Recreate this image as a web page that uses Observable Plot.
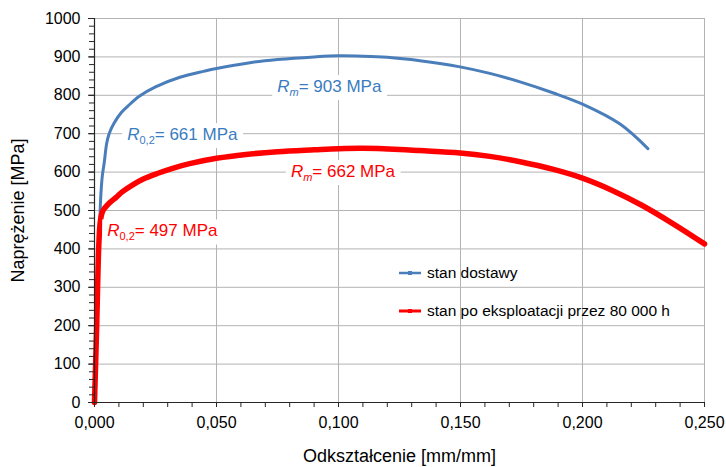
<!DOCTYPE html>
<html>
<head>
<meta charset="utf-8">
<script src="https://cdn.jsdelivr.net/npm/d3@7"></script>
<script src="https://cdn.jsdelivr.net/npm/@observablehq/plot@0.6"></script>
<style>
  html, body { margin: 0; padding: 0; background: #fff; }
  #chart svg { display: block; }
</style>
</head>
<body>
<div id="chart"></div>
<script>
// Tensile curves: strain [mm/mm] vs stress [MPa]
const strainDelivered = [0, 0.0009, 0.0018, 0.0022, 0.0026, 0.0032, 0.0040, 0.0050, 0.0060, 0.0080, 0.0110, 0.0137, 0.0185, 0.025, 0.035, 0.045, 0.050, 0.0637, 0.075, 0.090, 0.100, 0.110, 0.120, 0.1334, 0.1498, 0.162, 0.1744, 0.1881, 0.200, 0.2154, 0.2268];
const stressDelivered = [0, 200, 400, 480, 540, 590, 625, 675, 700, 727, 755, 772, 798, 822, 847, 863, 870, 885, 893, 900, 903, 902, 899, 890, 874, 857, 835, 806, 777, 725, 661];

const strainAged = [0, 0.0009, 0.0017, 0.0022, 0.0027, 0.0035, 0.0062, 0.0090, 0.0115, 0.016, 0.020, 0.026, 0.032, 0.039, 0.050, 0.062, 0.075, 0.090, 0.100, 0.110, 0.125, 0.1334, 0.1498, 0.162, 0.1744, 0.1881, 0.1997, 0.212, 0.2245, 0.237, 0.250];
const stressAged = [0, 200, 400, 460, 484, 500, 520, 535, 549, 568, 582, 597, 610, 622, 636, 646, 653, 658, 661, 662, 659, 656, 650, 641, 627, 607, 585, 553, 513, 466, 413];

// Yield strengths
const yieldDelivered = 661;
const yieldAged = 497;

// Series names
const seriesNames = ["stan dostawy", "stan po eksploatacji przez 80 000 h"];

// Axis ticks
const xTicks = [0, 0.05, 0.10, 0.15, 0.20, 0.25];
const yTicks = [0, 100, 200, 300, 400, 500, 600, 700, 800, 900, 1000];
const xMinor = d3.range(0, 0.2501, 0.01);
const yMinor = d3.range(0, 1001, 20);

const blue = "#4a7ebb";
const blueText = "#3a7cc0";
const red = "#ff0000";
const gridColor = "#b3b3b3";
const axisColor = "#262626";

const delivered = strainDelivered.map((x, i) => ({x, y: stressDelivered[i]}));
const aged = strainAged.map((x, i) => ({x, y: stressAged[i]}));

const rmDelivered = d3.max(stressDelivered);
const rmAged = d3.max(stressAged);

const annotations = [
  {x: 0.0751, y: 807, sub: "m", italicSub: true, value: rmDelivered, color: blueText},
  {x: 0.0136, y: 682, sub: "0,2", italicSub: false, value: yieldDelivered, color: blueText},
  {x: 0.0807, y: 586, sub: "m", italicSub: true, value: rmAged, color: red},
  {x: 0.0054, y: 431, sub: "0,2", italicSub: false, value: yieldAged, color: red}
];

const fmtX = d => d3.format(".3f")(d).replace(".", ",");

// Property labels: italic R with a subscript, then the value
function propertyLabels(index, scales) {
  const g = d3.create("svg:g").attr("class", "annot-layer").attr("text-anchor", "start");
  for (const a of annotations) {
    const t = g.append("text")
      .attr("class", "annot")
      .attr("text-anchor", "start")
      .attr("x", scales.x(a.x))
      .attr("y", scales.y(a.y))
      .attr("fill", a.color)
      .attr("font-size", 17);
    t.append("tspan").attr("font-style", "italic").text("R");
    t.append("tspan").attr("font-size", 11).attr("dy", 4)
      .attr("font-style", a.italicSub ? "italic" : "normal").text(a.sub);
    t.append("tspan").attr("dy", -4).text("= " + a.value + " MPa");
  }
  return g.node();
}

// Legend inside the frame
function legend() {
  const g = d3.create("svg:g").attr("font-size", 15.5).attr("fill", "#000").attr("text-anchor", "start");
  const items = [
    {name: seriesNames[0], color: blue, width: 2.5, y: 273},
    {name: seriesNames[1], color: red, width: 3, y: 311}
  ];
  for (const it of items) {
    g.append("line").attr("x1", 399).attr("x2", 421).attr("y1", it.y).attr("y2", it.y)
      .attr("stroke", it.color).attr("stroke-width", it.width);
    g.append("rect").attr("x", 408).attr("y", it.y - 2).attr("width", 4).attr("height", 4)
      .attr("fill", it.color);
    g.append("text").attr("x", 427).attr("y", it.y).attr("dy", "0.35em")
      .attr("text-anchor", "start").text(it.name);
  }
  return g.node();
}

const chart = Plot.plot({
  width: 726,
  height: 467,
  marginLeft: 94,
  marginRight: 22,
  marginTop: 18,
  marginBottom: 65,
  style: {fontFamily: "'Liberation Sans', Arial, sans-serif", fontSize: "16px", background: "#fff", color: "#000"},
  x: {domain: [0, 0.25]},
  y: {domain: [0, 1000]},
  marks: [
    Plot.gridX(xTicks.slice(1), {stroke: gridColor, strokeOpacity: 1, strokeWidth: 1}),
    Plot.gridY(yTicks.slice(1), {stroke: gridColor, strokeOpacity: 1, strokeWidth: 1}),
    Plot.line(delivered, {x: "x", y: "y", stroke: blue, strokeWidth: 3, curve: "catmull-rom"}),
    Plot.line(aged, {x: "x", y: "y", stroke: red, strokeWidth: 5.5, curve: "catmull-rom"}),
    Plot.ruleX([0], {stroke: axisColor, strokeWidth: 1.2}),
    Plot.ruleY([0], {stroke: axisColor, strokeWidth: 1.2}),
    Plot.axisX(xMinor, {tickSize: 5, tickFormat: () => "", stroke: axisColor, label: null}),
    Plot.axisX(xTicks, {tickSize: 5, tickPadding: 9, tickFormat: fmtX, fontSize: 16, stroke: axisColor, label: null}),
    Plot.axisY(yMinor, {tickSize: 5, tickFormat: () => "", stroke: axisColor, label: null}),
    Plot.axisY(yTicks, {tickSize: 6, tickPadding: 8, tickFormat: d => String(d), fontSize: 16, stroke: axisColor, label: null}),
    Plot.text(["Naprężenie [MPa]"], {frameAnchor: "left", dx: -76, rotate: -90, fontSize: 18, textAnchor: "middle"}),
    Plot.text(["Odkształcenie [mm/mm]"], {frameAnchor: "bottom", dy: 54, fontSize: 18, textAnchor: "middle", lineAnchor: "middle"}),
    propertyLabels,
    legend
  ]
});

document.getElementById("chart").append(chart);

// White boxes behind the property labels
d3.select(chart).selectAll("text.annot").each(function () {
  const b = this.getBBox();
  d3.select(this.parentNode).insert("rect", () => this)
    .attr("x", b.x - 5).attr("y", b.y - 2)
    .attr("width", b.width + 10).attr("height", b.height + 4)
    .attr("fill", "#fff");
});
</script>
</body>
</html>
